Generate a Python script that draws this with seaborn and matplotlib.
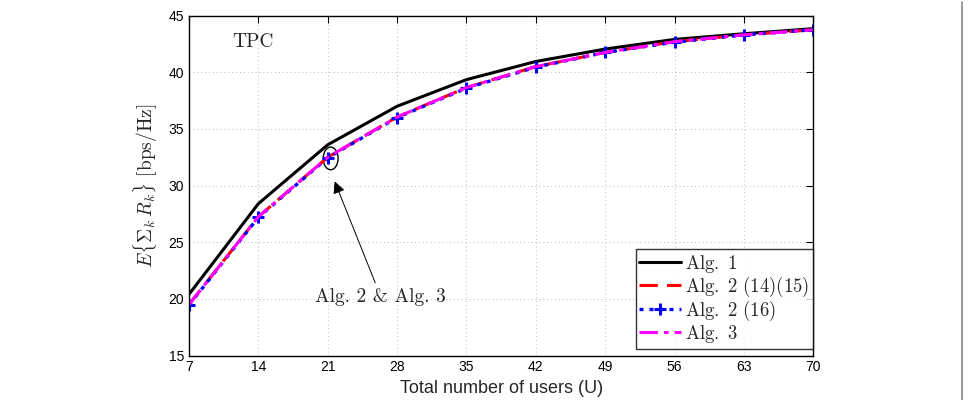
import numpy as np
import pandas as pd
import seaborn as sns
import matplotlib.pyplot as plt
from matplotlib.patches import Ellipse
from matplotlib.lines import Line2D

users = [7, 14, 21, 28, 35, 42, 49, 56, 63, 70]
alg1 = [20.4, 28.4, 33.6, 37.0, 39.35, 40.95, 42.05, 42.9, 43.4, 43.85]
alg2_1415 = [19.5, 27.25, 32.5, 36.05, 38.65, 40.5, 41.75, 42.7, 43.3, 43.75]
alg2_16 = [19.45, 27.2, 32.45, 36.0, 38.6, 40.45, 41.75, 42.65, 43.3, 43.75]
alg3 = [19.5, 27.25, 32.5, 36.05, 38.65, 40.5, 41.75, 42.7, 43.3, 43.75]

sns.set_style("white")
plt.rcParams['font.family'] = ['Liberation Sans', 'DejaVu Sans']
plt.rcParams['mathtext.fontset'] = 'cm'
plt.rcParams['axes.unicode_minus'] = False

fig = plt.figure(figsize=(9.74, 4.0), dpi=100)
ax = fig.add_axes([0.194, 0.111, 0.641, 0.85])

sns.lineplot(x=users, y=alg1, ax=ax, color='black', lw=2.2,
             label=r'$\mathrm{Alg.\ 1}$')
sns.lineplot(x=users, y=alg2_1415, ax=ax, color='red', lw=2.2,
             label=r'$\mathrm{Alg.\ 2\ (14)(15)}$')
ax.lines[-1].set_linestyle((0, (6, 3)))
sns.lineplot(x=users, y=alg2_16, ax=ax, color='blue', lw=2.4,
             label=r'$\mathrm{Alg.\ 2\ (16)}$')
ln = ax.lines[-1]
ln.set_linestyle((0, (1.2, 1.8)))
ln.set_marker('+')
ln.set_markersize(8)
ln.set_markeredgewidth(2.2)
ln.set_markeredgecolor('blue')
sns.lineplot(x=users, y=alg3, ax=ax, color='magenta', lw=2.2,
             label=r'$\mathrm{Alg.\ 3}$')
ax.lines[-1].set_linestyle((0, (6, 2, 1.5, 2)))

ax.set_xlim(7, 70)
ax.set_ylim(15, 45)
ax.set_xticks(users)
ax.set_yticks([15, 20, 25, 30, 35, 40, 45])
ax.tick_params(direction='in', top=True, right=True, length=5, labelsize=10,
               width=0.8, colors='black')
for s in ax.spines.values():
    s.set_visible(True)
    s.set_color('black')
    s.set_linewidth(1.0)
ax.grid(True, linestyle=(0, (1, 3)), color='#bbbbbb', lw=0.7)

ax.set_xlabel('Total number of users (U)', fontsize=13, labelpad=4)
ax.set_ylabel(r'$E\{\Sigma_k\, R_k\}\ \mathrm{[bps/Hz]}$', fontsize=14, labelpad=6)

ax.text(13.5, 42.7, 'TPC', fontsize=14, ha='center', va='center',
        family='cmr10')

ax.add_patch(Ellipse((21.3, 32.4), 1.5, 2.0, fill=False, color='black', lw=1.0))
ax.annotate('', xy=(21.6, 30.6), xytext=(25.9, 21.2),
            arrowprops=dict(arrowstyle='-|>', color='black', lw=0.7,
                            mutation_scale=18))
ax.text(26.3, 20.2, 'Alg. 2 & Alg. 3', fontsize=14,
        ha='center', va='center', family='cmr10')

leg = ax.legend(loc='lower right', bbox_to_anchor=(1.0, 0.02), fontsize=13.5,
                frameon=True, fancybox=False, borderaxespad=0.0,
                handlelength=2.2, handletextpad=0.25,
                labelspacing=0.0, borderpad=0.2)
leg.get_frame().set_edgecolor('black')
leg.get_frame().set_linewidth(1.0)

fig.add_artist(Line2D([962 / 974, 962 / 974], [0, 0.995], color='#888888', lw=1.2))

fig.savefig('out.png', dpi=100)
